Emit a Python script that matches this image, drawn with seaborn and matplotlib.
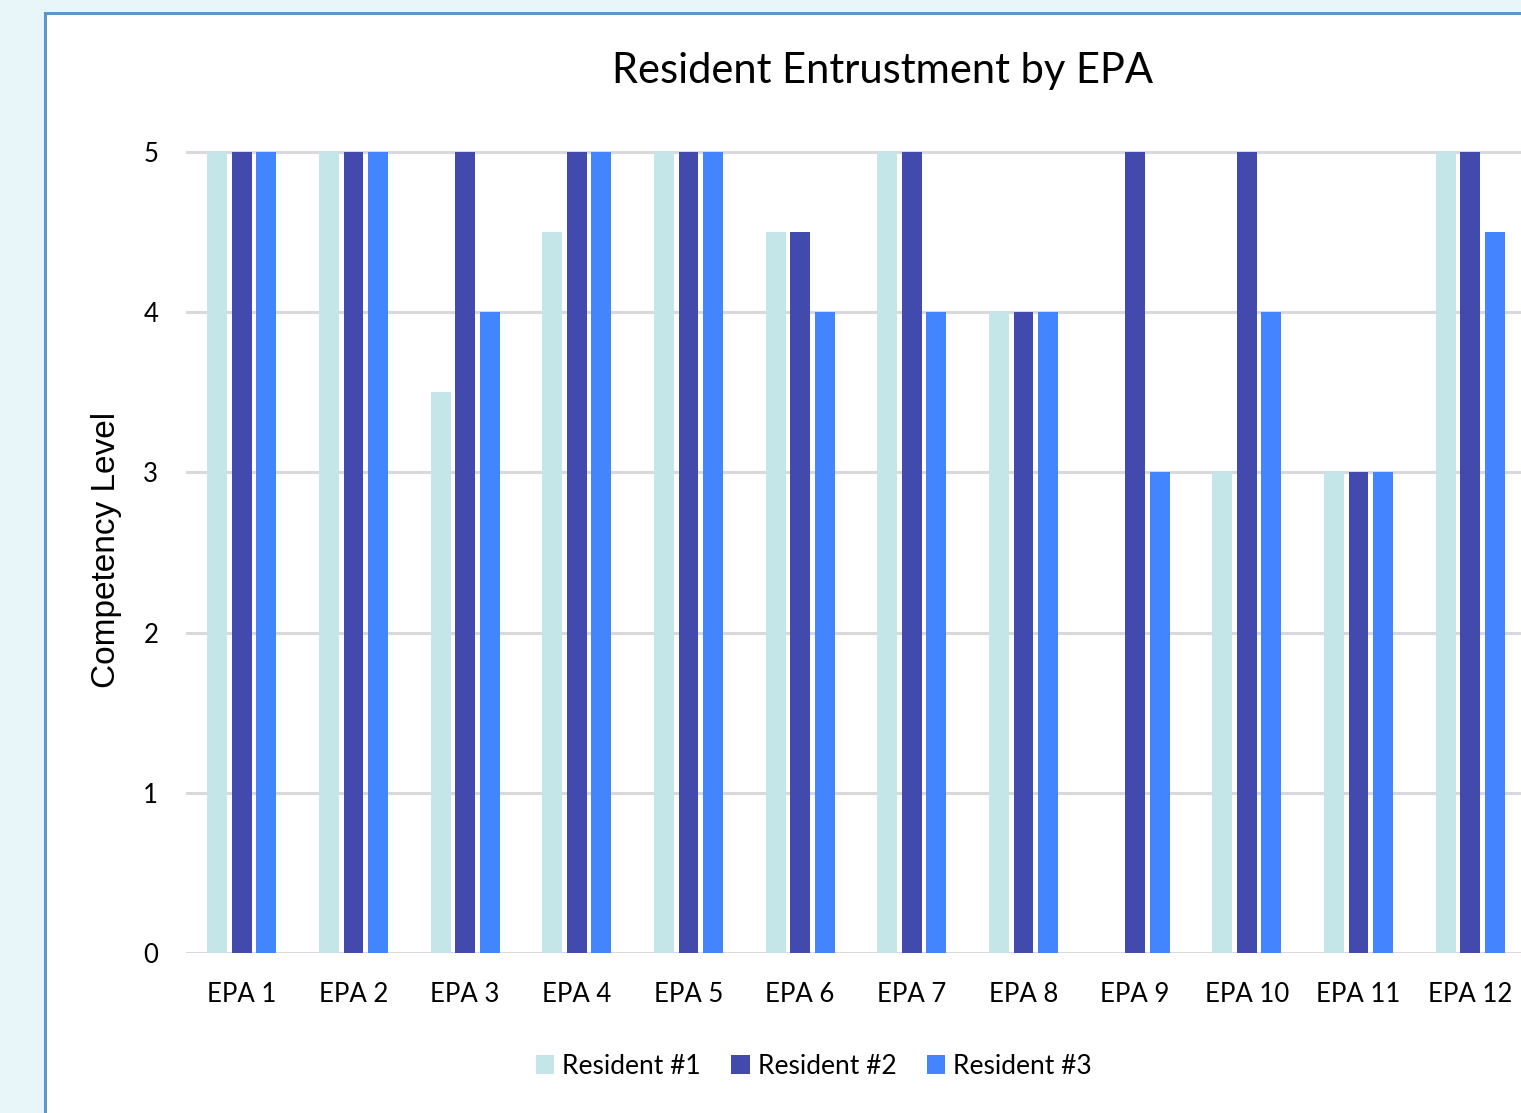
import matplotlib
matplotlib.use("Agg")
import matplotlib.pyplot as plt
import seaborn as sns
import pandas as pd
from matplotlib.patches import Rectangle, Patch

categories = ["EPA 1", "EPA 2", "EPA 3", "EPA 4", "EPA 5", "EPA 6",
              "EPA 7", "EPA 8", "EPA 9", "EPA 10", "EPA 11", "EPA 12"]
resident_1 = [5, 5, 3.5, 4.5, 5, 4.5, 5, 4, 0, 3, 3, 5]
resident_2 = [5, 5, 5, 5, 5, 4.5, 5, 4, 5, 5, 3, 5]
resident_3 = [5, 5, 4, 5, 5, 4, 4, 4, 3, 4, 3, 4.5]
series_names = ["Resident #1", "Resident #2", "Resident #3"]
colors = ["#C5E6E8", "#434AAE", "#4285FF"]
yticks = [0, 1, 2, 3, 4, 5]

df = pd.DataFrame({
    "EPA": categories * 3,
    "Resident": [series_names[0]] * 12 + [series_names[1]] * 12 + [series_names[2]] * 12,
    "Level": resident_1 + resident_2 + resident_3,
})

sns.set_theme(style="white")
plt.rcParams['font.family'] = ['Lato', 'DejaVu Sans']

W, H = 1521, 1113
fig = plt.figure(figsize=(W / 100, H / 100), dpi=100)
fig.patch.set_facecolor("#E8F6FA")

# white panel with blue border
panel = Rectangle((45 / W, -0.05), 1.1, 1 - 13 / H + 0.05, transform=fig.transFigure,
                  facecolor="white", edgecolor="#5E96CC", linewidth=2.2, zorder=-5)
fig.patches.append(panel)

ytop = 5.03
left = 186 / W
width = 1340 / W
bottom = 1 - 953 / H
height = (801 / H) * ytop / 5
ax = fig.add_axes([left, bottom, width, height])
ax.set_zorder(2)
ax.set_facecolor("none")

sns.barplot(data=df, x="EPA", y="Level", hue="Resident", palette=colors,
            order=categories, hue_order=series_names, width=0.66,
            linewidth=0, saturation=1, ax=ax, legend=False)

# leave a small white gap between adjacent bars
for p in ax.patches:
    w = p.get_width()
    nw = w * 0.81
    p.set_x(p.get_x() + (w - nw) / 2)
    p.set_width(nw)
    p.set_zorder(3)

ax.set_ylim(0, ytop)
ax.set_xlim(-0.5, len(categories) - 0.5)
ax.set_yticks(yticks)
ax.yaxis.grid(True, color="#D9D9D9", linewidth=2.2, zorder=0.5)
ax.set_axisbelow(True)
for s in ax.spines.values():
    s.set_visible(False)
ax.tick_params(axis="both", length=0, colors="black")
ax.tick_params(axis="x", pad=21, labelsize=18.5)
ax.tick_params(axis="y", pad=20, labelsize=18.5)
ax.set_xlabel("")
ax.set_ylabel("Competency Level", fontsize=24, family=["Liberation Sans", "DejaVu Sans"],
              labelpad=15, color="black")

fig.text(882 / W, 1 - 71 / H, "Resident Entrustment by EPA", ha="center", va="center",
         fontsize=30, color="black")

handles = [Patch(facecolor=c, edgecolor="none") for c in colors]
leg = fig.legend(handles, series_names, loc="center", bbox_to_anchor=(814 / W, 1 - 1066 / H),
                 ncol=3, frameon=False, fontsize=19, handlelength=0.7, handleheight=0.7,
                 handletextpad=0.3, columnspacing=1.15)
for t in leg.get_texts():
    t.set_color("black")

fig.savefig("out.png", dpi=100, facecolor=fig.get_facecolor())
